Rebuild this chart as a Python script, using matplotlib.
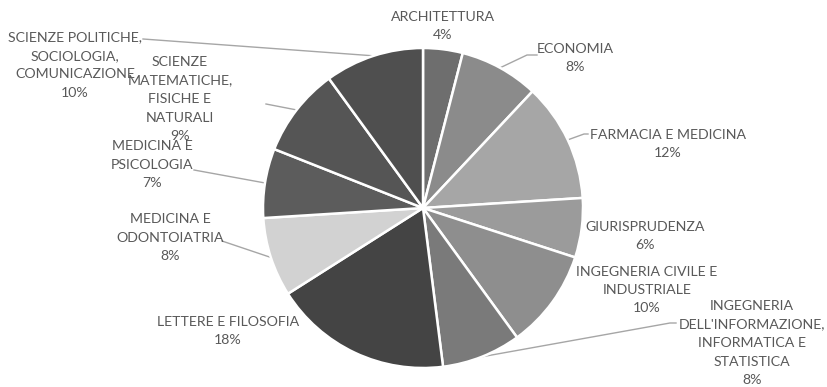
import numpy as np
import matplotlib
matplotlib.use("Agg")
import matplotlib.pyplot as plt

# Share of students by faculty (percent)
faculties = [
    "ARCHITETTURA",
    "ECONOMIA",
    "FARMACIA E MEDICINA",
    "GIURISPRUDENZA",
    "INGEGNERIA CIVILE E\nINDUSTRIALE",
    "INGEGNERIA\nDELL'INFORMAZIONE,\nINFORMATICA E\nSTATISTICA",
    "LETTERE E FILOSOFIA",
    "MEDICINA E\nODONTOIATRIA",
    "MEDICINA E\nPSICOLOGIA",
    "SCIENZE\nMATEMATICHE,\nFISICHE E\nNATURALI",
    "SCIENZE POLITICHE,\nSOCIOLOGIA,\nCOMUNICAZIONE",
]
shares = [4, 8, 12, 6, 10, 8, 18, 8, 7, 9, 10]

greys = ["#6e6e6e", "#8b8b8b", "#a6a6a6", "#9b9b9b", "#8e8e8e", "#7a7a7a",
         "#444444", "#d2d2d2", "#5c5c5c", "#555555", "#4f4f4f"]

W, H = 828, 387
fig = plt.figure(figsize=(W / 100, H / 100), dpi=100)
ax = fig.add_axes([0, 0, 1, 1])

cx, cy, R = 423, H - 208, 160
ax.pie(shares, colors=greys, startangle=90, counterclock=False,
       center=(cx, cy), radius=R, frame=True,
       wedgeprops=dict(edgecolor="white", linewidth=1.8))
ax.set_xlim(0, W)
ax.set_ylim(0, H)
ax.set_aspect("equal")
ax.axis("off")

# mid-angle of each wedge (clockwise from 12 o'clock)
cum = np.cumsum([0] + shares)
mid = (cum[:-1] + cum[1:]) / 2 / sum(shares) * 2 * np.pi

def edge(i):
    return cx + R * np.sin(mid[i]), cy + R * np.cos(mid[i])

# label block centre (pixel coords from top-left) and leader path
layout = {
    0: ((443, 26), None),
    1: ((575, 58), [(527, 55), (537, 55)]),
    2: ((668, 144), [(584, 134), (588, 134)]),
    3: ((645, 236), None),
    4: ((647, 290), None),
    5: ((752, 343), [(670, 323), (676, 323)]),
    6: ((228, 331), None),
    7: ((170, 238), [(222, 241)]),
    8: ((152, 165), [(194, 170)]),
    9: ((180, 99), [(266, 104)]),
    10: ((75, 65), [(143, 39)]),
}

text_col = "#595959"
line_col = "#a6a6a6"
for i, (name, val) in enumerate(zip(faculties, shares)):
    (tx, ty), path = layout[i]
    ax.text(tx, H - ty, f"{name}\n{val}%", ha="center", va="center",
            fontsize=10.2, color=text_col, family="Lato", linespacing=1.65)
    if path:
        ex, ey = edge(i)
        xs = [ex] + [p[0] for p in path]
        ys = [ey] + [H - p[1] for p in path]
        ax.plot(xs, ys, color=line_col, lw=1.0, zorder=0.5)

fig.savefig("out.png", dpi=100, facecolor="white")
